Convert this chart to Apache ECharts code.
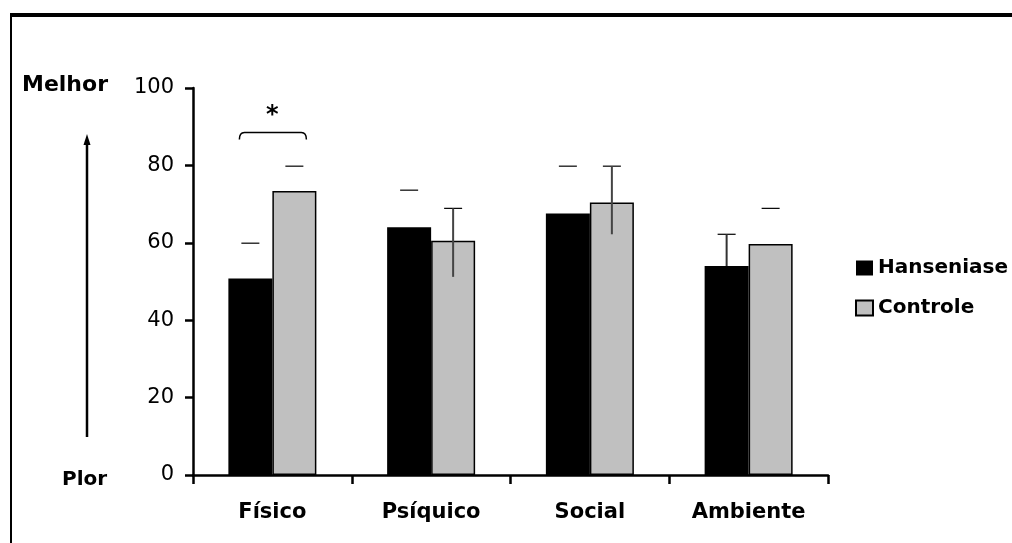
<!DOCTYPE html>
<html>
<head>
<meta charset="utf-8">
<script src="https://cdn.jsdelivr.net/npm/echarts@6/dist/echarts.min.js"></script>
<style>
html,body{margin:0;padding:0;background:#fff;}
#c{width:1012px;height:543px;}
</style>
</head>
<body>
<div id="c"></div>
<script>
// ---- data ----
var categories = ['Físico', 'Psíquico', 'Social', 'Ambiente'];
var seriesNames = ['Hanseniase', 'Controle'];
var hansValues = [50.8, 64.0, 67.6, 54.0];
var ctrlValues = [73.4, 60.5, 70.4, 59.7];
var hansErrTop = [59.9, 73.6, 79.8, 62.2];
var ctrlErrTop = [79.8, 68.9, 79.8, 68.9];
var hansErrLow = [null, null, null, 54.0];
var ctrlErrLow = [null, 51.2, 62.2, null];
var yTicks = [0, 20, 40, 60, 80, 100];
var sigCategory = 0;
var sigBracket = 88.5;
var sigStar = 92.8;
var sigLabel = '*';
var axisTop = 'Melhor';
var axisBottom = 'Plor';

var FONT = 'DejaVu Sans';
var BAR_W = 44;

function errData(top, low) {
  return top.map(function (t, i) { return [i, t, low[i] == null ? '-' : low[i]]; });
}

function errRender(offset, lineColor) {
  return function (params, api) {
    var idx = api.value(0);
    var top = api.coord([idx, api.value(1)]);
    var x = top[0] + offset;
    var children = [{
      type: 'line',
      shape: { x1: x - 9, y1: top[1], x2: x + 9, y2: top[1] },
      style: { stroke: '#000', lineWidth: 1.2 }
    }];
    var lowV = api.value(2);
    if (!isNaN(lowV)) {
      var low = api.coord([idx, lowV]);
      children.push({
        type: 'line',
        shape: { x1: x, y1: top[1], x2: x, y2: low[1] },
        style: { stroke: lineColor, lineWidth: 2 }
      });
    }
    return { type: 'group', children: children };
  };
}

var chart = echarts.init(document.getElementById('c'), null, { renderer: 'canvas' });
chart.setOption({
  animation: false,
  backgroundColor: '#fff',
  grid: { left: 193, right: 184, top: 88, bottom: 68, containLabel: false },
  legend: {
    data: seriesNames,
    orient: 'vertical',
    left: 850,
    top: 253,
    itemWidth: 17,
    itemHeight: 15,
    itemGap: 20,
    icon: 'rect',
    textStyle: { fontFamily: FONT, fontWeight: 'bold', fontSize: 20, color: '#000' }
  },
  xAxis: {
    type: 'category',
    data: categories,
    axisLine: { lineStyle: { color: '#000', width: 2.5 } },
    axisTick: { show: true, length: 9, lineStyle: { color: '#000', width: 2.5 } },
    axisLabel: { margin: 27, fontFamily: FONT, fontWeight: 'bold', fontSize: 21, color: '#000' },
    splitLine: { show: false }
  },
  yAxis: {
    type: 'value',
    min: yTicks[0],
    max: yTicks[yTicks.length - 1],
    interval: yTicks[1] - yTicks[0],
    axisLine: { show: true, lineStyle: { color: '#000', width: 2.5 } },
    axisTick: { show: true, length: 8, lineStyle: { color: '#000', width: 2.5 } },
    axisLabel: { margin: 19, fontFamily: FONT, fontSize: 21, color: '#000' },
    splitLine: { show: false }
  },
  series: [
    {
      name: seriesNames[0], type: 'bar', data: hansValues,
      barWidth: BAR_W, barGap: '0%',
      itemStyle: { color: '#000' }
    },
    {
      name: seriesNames[1], type: 'bar', data: ctrlValues,
      barWidth: BAR_W, barGap: '0%',
      itemStyle: { color: '#c0c0c0', borderColor: '#000', borderWidth: 1.5 }
    },
    {
      type: 'custom', name: 'errH', z: 5,
      data: errData(hansErrTop, hansErrLow),
      encode: { x: 0, y: [1, 2] },
      renderItem: errRender(-BAR_W / 2, '#333')
    },
    {
      type: 'custom', name: 'errC', z: 5,
      data: errData(ctrlErrTop, ctrlErrLow),
      encode: { x: 0, y: [1, 2] },
      renderItem: errRender(BAR_W / 2, '#444')
    },
    {
      type: 'custom', name: 'sig', z: 5,
      data: [[sigCategory, sigBracket, sigStar]],
      encode: { x: 0, y: [1, 2] },
      renderItem: function (params, api) {
        var p = api.coord([api.value(0), api.value(1)]);
        var s = api.coord([api.value(0), api.value(2)]);
        var x1 = p[0] - 33, x2 = p[0] + 34, y = p[1];
        return {
          type: 'group',
          children: [
            {
              type: 'path',
              shape: {
                pathData: 'M' + x1 + ' ' + (y + 7) + ' Q' + x1 + ' ' + y + ' ' + (x1 + 5) + ' ' + y +
                  ' L' + (x2 - 5) + ' ' + y + ' Q' + x2 + ' ' + y + ' ' + x2 + ' ' + (y + 7)
              },
              style: { stroke: '#000', lineWidth: 1.5, fill: null }
            },
            {
              type: 'text',
              x: p[0], y: s[1],
              style: {
                text: sigLabel, fontFamily: FONT, fontWeight: 'bold', fontSize: 24,
                fill: '#000', align: 'center', verticalAlign: 'middle'
              }
            }
          ]
        };
      }
    }
  ],
  graphic: [
    { type: 'line', shape: { x1: 10, y1: 15, x2: 1012, y2: 15 }, style: { stroke: '#000', lineWidth: 4 } },
    { type: 'line', shape: { x1: 11, y1: 13, x2: 11, y2: 543 }, style: { stroke: '#000', lineWidth: 2 } },
    { type: 'text', x: 22, y: 85, style: { text: axisTop, fontFamily: FONT, fontWeight: 'bold', fontSize: 22, fill: '#000', verticalAlign: 'middle' } },
    { type: 'text', x: 62, y: 480, style: { text: axisBottom, fontFamily: FONT, fontWeight: 'bold', fontSize: 20, fill: '#000', verticalAlign: 'middle' } },
    { type: 'line', shape: { x1: 87, y1: 142, x2: 87, y2: 437 }, style: { stroke: '#000', lineWidth: 2.5 } },
    { type: 'polygon', shape: { points: [[87, 134], [83.5, 145], [90.5, 145]] }, style: { fill: '#000' } }
  ]
});
</script>
</body>
</html>
